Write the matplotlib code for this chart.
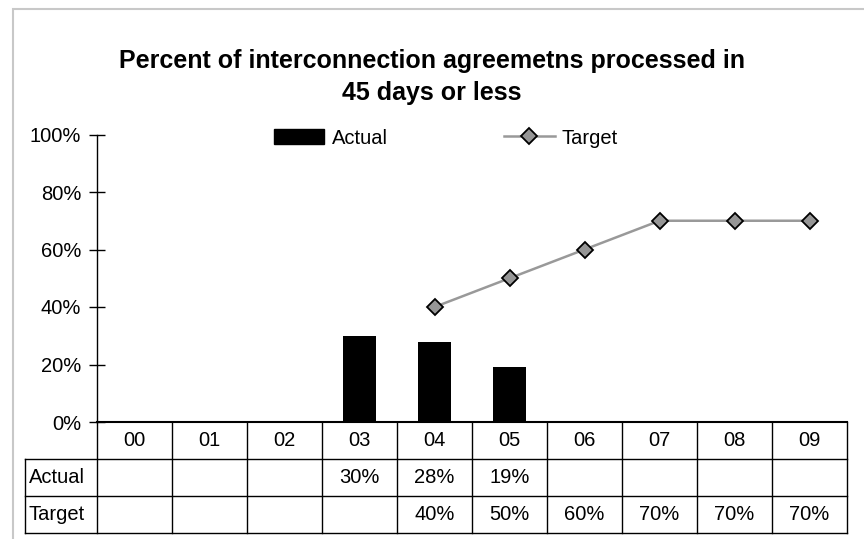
import numpy as np
import matplotlib
matplotlib.use("Agg")
import matplotlib.pyplot as plt
from matplotlib.patches import Rectangle
from matplotlib.lines import Line2D
import matplotlib.transforms as mtransforms

plt.rcParams['font.family'] = ['Liberation Sans', 'DejaVu Sans']

# данные
years = ['00', '01', '02', '03', '04', '05', '06', '07', '08', '09']
actual = [None, None, None, 0.30, 0.28, 0.19, None, None, None, None]
target = [None, None, None, None, 0.40, 0.50, 0.60, 0.70, 0.70, 0.70]
yticks = [0, 0.2, 0.4, 0.6, 0.8, 1.0]

W, H = 864, 539
fig = plt.figure(figsize=(W / 100, H / 100), dpi=100)

# серая рамка вокруг диаграммы
fig.add_artist(Rectangle((13 / W, -0.05), 1.2, (H - 9) / H + 0.05, transform=fig.transFigure,
                         fill=False, edgecolor='#c8c8c8', linewidth=1.5))

ax_l, ax_r, ax_top, ax_bot = 97, 847, 134.5, 422
ax = fig.add_axes([ax_l / W, (H - ax_bot) / H, (ax_r - ax_l) / W, (ax_bot - ax_top) / H])

x = np.arange(len(years))
act = np.array([np.nan if v is None else v for v in actual])
tgt = np.array([np.nan if v is None else v for v in target])

line_kw = dict(color='#999999', linewidth=1.8, marker='D', markersize=8,
               markerfacecolor='#969696', markeredgecolor='black', markeredgewidth=1.3)

ax.bar(x, act, width=0.44, color='black', label='Actual', zorder=3)
ax.plot(x, tgt, label='Target', zorder=4, **line_kw)

ax.set_xlim(-0.5, len(years) - 0.5)
ax.set_ylim(0, 1)
ax.set_yticks(yticks)
ax.set_yticklabels([f'{int(round(v * 100))}%' for v in yticks], fontsize=14.5)
ax.tick_params(axis='y', direction='inout', length=11, width=1, pad=6)
ax.set_xticks([])
for s in ['top', 'right']:
    ax.spines[s].set_visible(False)
ax.spines['left'].set_linewidth(1)
ax.spines['bottom'].set_linewidth(1.5)

# таблица данных под осью
trans = mtransforms.blended_transform_factory(ax.transData, ax.transAxes)
row_h = 37 / (ax_bot - ax_top)
label_x = -0.5 - (ax_l - 25) / ((ax_r - ax_l) / len(years))
lk = dict(color='black', linewidth=1, transform=trans, clip_on=False)
for i in range(len(years) + 1):
    ax.plot([i - 0.5, i - 0.5], [0, -3 * row_h], **lk)
for r in [1, 2, 3]:
    ax.plot([label_x, len(years) - 0.5], [-r * row_h, -r * row_h], **lk)
ax.plot([label_x, label_x], [-row_h, -3 * row_h], **lk)

for i, y in enumerate(years):
    ax.text(i, -0.5 * row_h, y, ha='center', va='center', fontsize=14.5, transform=trans)
    if actual[i] is not None:
        ax.text(i, -1.5 * row_h, f'{int(round(actual[i] * 100))}%', ha='center', va='center',
                fontsize=14.5, transform=trans)
    if target[i] is not None:
        ax.text(i, -2.5 * row_h, f'{int(round(target[i] * 100))}%', ha='center', va='center',
                fontsize=14.5, transform=trans)
ax.text(label_x + 0.05, -1.5 * row_h, 'Actual', ha='left', va='center', fontsize=14.5, transform=trans)
ax.text(label_x + 0.05, -2.5 * row_h, 'Target', ha='left', va='center', fontsize=14.5, transform=trans)

# заголовок
fig.text(432 / W, 1 - 77 / H, 'Percent of interconnection agreemetns processed in\n45 days or less',
         ha='center', va='center', fontsize=18, fontweight='bold', linespacing=1.4)

# легенда
handles = [Rectangle((0, 0), 1, 1, color='black'), Line2D([], [], **line_kw)]
fig.legend(handles, ['Actual', 'Target'], loc='center', bbox_to_anchor=(446 / W, 1 - 138 / H),
           ncol=2, frameon=False, fontsize=14.5, handlelength=2.5, handletextpad=0.35,
           columnspacing=5.8, handleheight=0.7)

fig.savefig('out.png', dpi=100)
